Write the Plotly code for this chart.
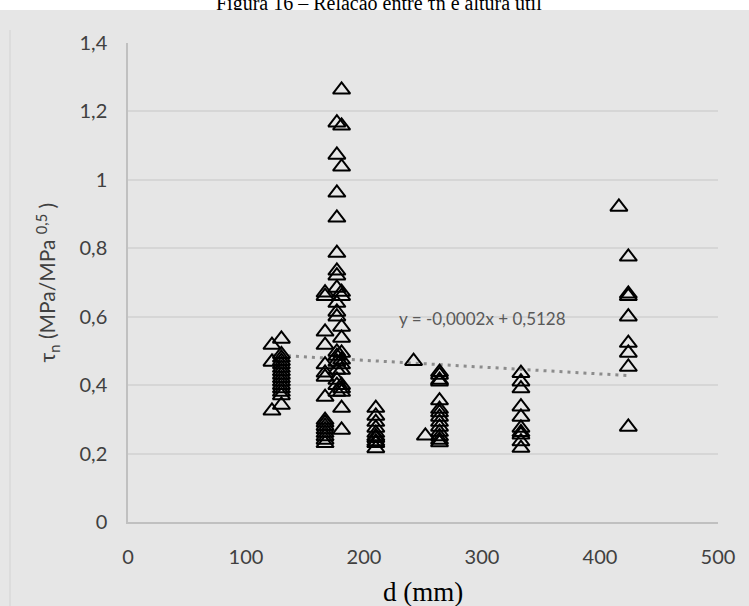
import plotly.graph_objects as go

# Beam effective depth d (mm) and normalized shear stress tau_n for each depth group
d_groups = [122, 130, 167, 177, 181, 210, 242, 252, 264, 333, 416, 424]
tau_groups = [
    [0.517, 0.468, 0.325],
    [0.535, 0.49, 0.48, 0.47, 0.46, 0.45, 0.44, 0.43, 0.42, 0.41, 0.40, 0.39, 0.38, 0.37, 0.342],
    [0.67, 0.66, 0.556, 0.517, 0.46, 0.436, 0.424, 0.365, 0.298, 0.29, 0.28, 0.27, 0.26, 0.25, 0.24, 0.23],
    [1.167, 1.073, 0.962, 0.889, 0.786, 0.734, 0.72, 0.684, 0.64, 0.614, 0.6, 0.497, 0.485, 0.468, 0.444, 0.415, 0.40, 0.38],
    [1.263, 1.158, 1.038, 0.672, 0.66, 0.57, 0.538, 0.494, 0.474, 0.46, 0.444, 0.40, 0.39, 0.38, 0.333, 0.269],
    [0.333, 0.31, 0.292, 0.275, 0.26, 0.25, 0.245, 0.235, 0.23, 0.215],
    [0.47],
    [0.252],
    [0.438, 0.43, 0.415, 0.41, 0.355, 0.33, 0.32, 0.307, 0.292, 0.278, 0.263, 0.25, 0.24, 0.232],
    [0.435, 0.41, 0.39, 0.337, 0.307, 0.275, 0.262, 0.255, 0.235, 0.216],
    [0.921],
    [0.775, 0.667, 0.66, 0.6, 0.523, 0.494, 0.453, 0.278],
]

# Linear trendline y = a*x + b
trend_slope = -0.0002
trend_intercept = 0.5128

x_vals = [d for d, vals in zip(d_groups, tau_groups) for _ in vals]
y_vals = [v for vals in tau_groups for v in vals]

trend_x = [min(x_vals), max(x_vals)]
trend_y = [trend_slope * x + trend_intercept for x in trend_x]

BG = "#e6e6e6"
W, H = 749, 606
ML, MR, MT, MB = 128, 31, 43, 84
PW, PH = W - ML - MR, H - MT - MB


def px_x(p):
    return (p - ML) / PW


def px_y(p):
    return (H - MB - p) / PH


fig = go.Figure()

fig.add_trace(go.Scatter(
    x=trend_x, y=trend_y, mode="lines",
    line=dict(color="#8c8c8c", width=3, dash="3px,5px"),
    hoverinfo="skip", showlegend=False,
))

fig.add_trace(go.Scatter(
    x=x_vals, y=y_vals, mode="markers",
    marker=dict(symbol="triangle-up-open", size=15, color="black",
                line=dict(color="black", width=2)),
    showlegend=False,
))

tick_font = dict(family="Lato", size=20, color="#404040")

fig.update_layout(
    width=W, height=H,
    margin=dict(l=ML, r=MR, t=MT, b=MB),
    paper_bgcolor="white",
    plot_bgcolor=BG,
    separators=", ",
    xaxis=dict(
        range=[0, 500], dtick=100, showgrid=False, zeroline=False,
        showline=True, linecolor="#c0c0c0", linewidth=1.5,
        ticks="outside", ticklen=16, tickcolor="rgba(0,0,0,0)",
        tickfont=tick_font,
    ),
    yaxis=dict(
        range=[0, 1.4], dtick=0.2, showgrid=True, gridcolor="#d6d6d6", gridwidth=1.5,
        zeroline=False, showline=True, linecolor="#c0c0c0", linewidth=1.5,
        ticks="outside", ticklen=15, tickcolor="rgba(0,0,0,0)",
        tickfont=tick_font,
    ),
    shapes=[
        # chart area background below the caption strip
        dict(type="rect", xref="paper", yref="paper", layer="below",
             x0=px_x(-5), x1=px_x(W + 5), y0=px_y(H + 5), y1=px_y(10),
             fillcolor=BG, line=dict(width=0)),
        dict(type="line", xref="paper", yref="paper", layer="below",
             x0=px_x(10), x1=px_x(10), y0=px_y(10), y1=px_y(H + 5),
             line=dict(color="#d2d2d2", width=1)),
    ],
    annotations=[
        # caption above the chart
        dict(text="Figura 16 – Relação entre τn e altura útil",
             xref="paper", yref="paper", x=px_x(379), y=px_y(4),
             xanchor="center", yanchor="middle", showarrow=False,
             font=dict(family="Liberation Serif", size=20, color="black")),
        # chart area edge overlapping the caption
        dict(text=" ", xref="paper", yref="paper", x=px_x(W / 2), y=px_y(10),
             xanchor="center", yanchor="top", showarrow=False,
             width=W + 40, height=20, bgcolor=BG, borderpad=0, borderwidth=0),
        dict(text="y = -0,0002x + 0,5128", xref="x", yref="y",
             x=228, y=0.594, xanchor="left", yanchor="middle", showarrow=False,
             font=dict(family="Lato", size=17, color="#595959")),
        dict(text="τ<sub>n</sub> (MPa/MPa <sup>0,5</sup> )", textangle=-90,
             xref="paper", yref="paper", x=px_x(47), y=0.5,
             xanchor="center", yanchor="middle", showarrow=False,
             font=dict(family="Lato", size=21, color="#404040")),
        dict(text="d (mm)", xref="paper", yref="paper", x=0.5, y=px_y(592),
             xanchor="center", yanchor="middle", showarrow=False,
             font=dict(family="Liberation Serif", size=27, color="black")),
    ],
)

fig.write_html("out.html")
